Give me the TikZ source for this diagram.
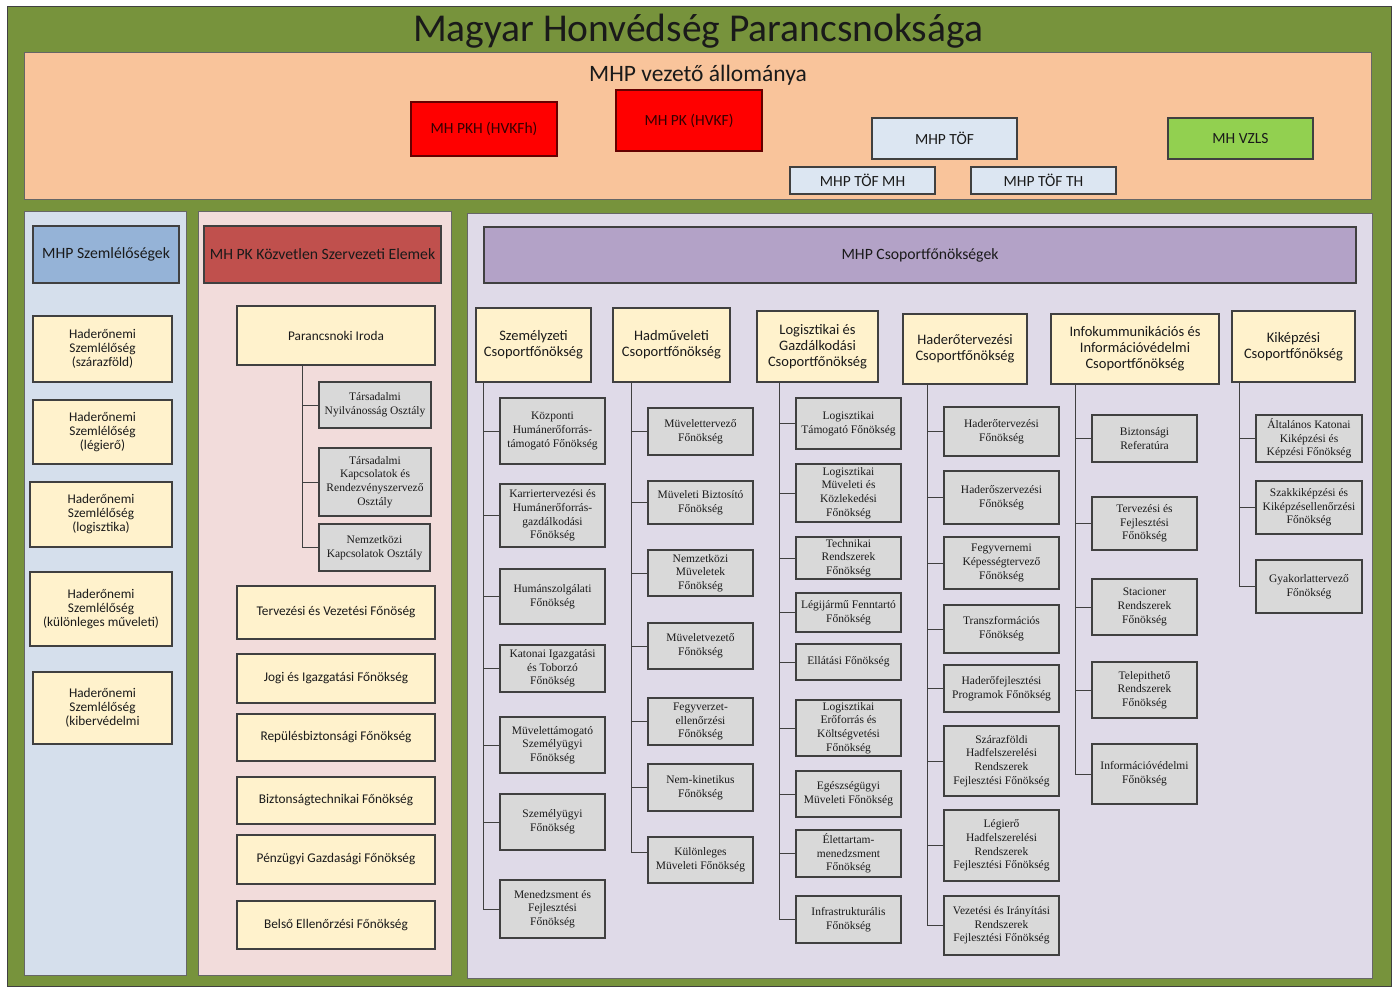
\documentclass[tikz,border=0pt]{standalone}
\usepackage{fontspec}
\setmainfont{Carlito}
\newfontfamily\serf{Liberation Serif}
\definecolor{greenbg}{HTML}{77933C}
\definecolor{peach}{HTML}{F9C49B}
\definecolor{bluepan}{HTML}{D5DFEC}
\definecolor{bluehdr}{HTML}{95B3D7}
\definecolor{pinkpan}{HTML}{F2DCDB}
\definecolor{redhdr}{HTML}{C0504D}
\definecolor{lavpan}{HTML}{DFDAE8}
\definecolor{purphdr}{HTML}{B3A2C7}
\definecolor{creamc}{HTML}{FFF2CC}
\definecolor{greyc}{HTML}{D9D9D9}
\definecolor{redbox}{HTML}{FF0000}
\definecolor{tofc}{HTML}{DCE6F2}
\definecolor{vzls}{HTML}{92D050}
\definecolor{linec}{HTML}{404040}
\definecolor{txt}{HTML}{1A1A1A}
\newcommand\bx[7]{\node[#1, minimum width={#5-#3}, minimum height={#6-#4}] (#2) at ({(#3+#5)/2},{-(#4+#6)/2}) {#7};}
\tikzset{
  box/.style={draw=linec, line width=1.1pt, inner sep=1pt, align=center, text=txt},
  panel/.style={draw=linec!80, line width=1pt},
  cream/.style={box, fill=creamc, font=\fontsize{13.3}{14}\selectfont},
  pinkitem/.style={box, fill=creamc, font=\fontsize{13.3}{14}\selectfont},
  grp/.style={box, fill=creamc, font=\fontsize{14.5}{16}\selectfont},
  grey/.style={box, fill=greyc, font=\serf\fontsize{11.5}{13.7}\selectfont},
  lead/.style={box, font=\fontsize{15.5}{17}\selectfont},
  hdr/.style={box, font=\fontsize{15.7}{18}\selectfont},
  link/.style={draw=linec, line width=1pt}
}
\begin{document}
\begin{tikzpicture}[x=1pt,y=1pt]
\useasboundingbox (0,0) rectangle (1394,-987);
\fill[white] (0,0) rectangle (1394,-987);
% outer
\bx{draw=linec, line width=1pt, fill=greenbg, inner sep=0pt}{outer}{7}{7}{1391}{986}{}
\node[font=\fontsize{39.5}{44}\selectfont, text=txt] (title) at (698,-31) {Magyar Honvédség Parancsnoksága};
% leadership
\bx{panel, fill=peach, inner sep=0pt}{lead}{24}{53}{1371}{200}{}
\node[font=\fontsize{23.5}{26}\selectfont, text=txt] (leadt) at (698,-75) {MHP vezető állománya};
\bx{lead, fill=redbox, draw=red!40!black, text=red!20!black}{pkh}{411}{102}{557}{156}{MH PKH (HVKFh)}
\bx{lead, fill=redbox, draw=red!40!black, text=red!20!black}{pk}{616}{90}{762}{151}{MH PK (HVKF)}
\bx{lead, fill=tofc}{tof}{872}{118}{1017}{159}{MHP TÖF}
\bx{lead, fill=vzls}{vz}{1168}{118}{1313}{159}{MH VZLS}
\bx{lead, fill=tofc}{tofmh}{790}{167}{935}{194}{MHP TÖF MH}
\bx{lead, fill=tofc}{tofth}{971}{167}{1116}{194}{MHP TÖF TH}
% left blue panel
\bx{panel, fill=bluepan, inner sep=0pt}{bp}{24}{211}{186}{975}{}
\bx{hdr, fill=bluehdr}{szh}{33}{226}{179}{283}{MHP Szemlélőségek}
\bx{cream}{s1}{33}{316}{172}{382}{Haderőnemi\\Szemlélőség\\(szárazföld)}
\bx{cream}{s2}{33}{400}{172}{464}{Haderőnemi\\Szemlélőség\\(légierő)}
\bx{cream}{s3}{30}{482}{172}{547}{Haderőnemi\\Szemlélőség\\(logisztika)}
\bx{cream}{s4}{30}{572}{172}{646}{Haderőnemi\\Szemlélőség\\(különleges műveleti)}
\bx{cream}{s5}{33}{672}{172}{744}{Haderőnemi\\Szemlélőség\\(kibervédelmi}
% pink panel
\bx{panel, fill=pinkpan, inner sep=0pt}{pp}{198}{211}{451}{975}{}
\bx{hdr, fill=redhdr}{pkh2}{204}{226}{441}{283}{MH PK Közvetlen Szervezeti Elemek}
\bx{pinkitem}{pi}{237}{306}{435}{365}{Parancsnoki Iroda}
\bx{grey}{pi1}{319}{382}{431}{428}{Társadalmi\\Nyilvánosság Osztály}
\bx{grey}{pi2}{319}{448}{431}{516}{Társadalmi\\Kapcsolatok és\\Rendezvényszervező\\Osztály}
\bx{grey}{pi3}{319}{524}{430}{571}{Nemzetközi\\Kapcsolatok Osztály}
\foreach \c in {pi1,pi2,pi3} \draw[link] ([xshift=66]pi.south west) |- (\c.west);
\bx{pinkitem}{p1}{237}{586}{435}{639}{Tervezési és Vezetési Főnöség}
\bx{pinkitem}{p2}{237}{654}{435}{703}{Jogi és Igazgatási Főnökség}
\bx{pinkitem}{p3}{237}{714}{435}{761}{Repülésbiztonsági Főnökség}
\bx{pinkitem}{p4}{237}{777}{435}{824}{Biztonságtechnikai Főnökség}
\bx{pinkitem}{p5}{237}{835}{435}{884}{Pénzügyi Gazdasági Főnökség}
\bx{pinkitem}{p6}{237}{901}{435}{949}{Belső Ellenőrzési Főnökség}
% lavender panel
\bx{panel, fill=lavpan, inner sep=0pt}{lp}{467}{213}{1372}{978}{}
\bx{hdr, fill=purphdr}{csh}{484}{227}{1356}{283}{MHP Csoportfőnökségek}
\bx{grp}{sz}{476}{308}{591}{382}{Személyzeti\\Csoportfőnökség}
\bx{grp}{hm}{613}{308}{730}{382}{Hadműveleti\\Csoportfőnökség}
\bx{grp}{lg}{757}{311}{878}{382}{Logisztikai és\\Gazdálkodási\\Csoportfőnökség}
\bx{grp}{ht}{903}{314}{1027}{384}{Haderőtervezési\\Csoportfőnökség}
\bx{grp}{ik}{1051}{314}{1219}{384}{Infokummunikációs és\\Információvédelmi\\Csoportfőnökség}
\bx{grp}{kk}{1232}{311}{1355}{382}{Kiképzési\\Csoportfőnökség}
% Szemelyzeti
\bx{grey}{sz1}{500}{398}{605}{464}{Központi\\Humánerőforrás-\\támogató Főnökség}
\bx{grey}{sz2}{500}{484}{605}{547}{Karriertervezési és\\Humánerőforrás-\\gazdálkodási\\Főnökség}
\bx{grey}{sz3}{500}{569}{605}{624}{Humánszolgálati\\Főnökség}
\bx{grey}{sz4}{500}{645}{605}{692}{Katonai Igazgatási\\és Toborzó\\Főnökség}
\bx{grey}{sz5}{500}{717}{605}{773}{Müvelettámogató\\Személyügyi\\Főnökség}
\bx{grey}{sz6}{500}{794}{605}{850}{Személyügyi\\Főnökség}
\bx{grey}{sz7}{500}{880}{605}{938}{Menedzsment és\\Fejlesztési\\Főnökség}
\foreach \c in {sz1,sz2,sz3,sz4,sz5,sz6,sz7} \draw[link] ([xshift=8]sz.south west) |- (\c.west);
% Hadmuveleti
\bx{grey}{hm1}{648}{408}{753}{455}{Müvelettervező\\Főnökség}
\bx{grey}{hm2}{648}{481}{753}{524}{Müveleti Biztosító\\Főnökség}
\bx{grey}{hm3}{648}{550}{753}{596}{Nemzetközi\\Müveletek\\Főnökség}
\bx{grey}{hm4}{648}{623}{753}{669}{Müveletvezető\\Főnökség}
\bx{grey}{hm5}{648}{698}{753}{745}{Fegyverzet-\\ellenőrzési\\Főnökség}
\bx{grey}{hm6}{648}{764}{753}{811}{Nem-kinetikus\\Főnökség}
\bx{grey}{hm7}{648}{837}{753}{883}{Különleges\\Müveleti Főnökség}
\foreach \c in {hm1,hm2,hm3,hm4,hm5,hm6} \draw[link] ([xshift=19]hm.south west) |- (\c.west);
\draw[link] ([xshift=19]hm.south west) |- ([yshift=8]hm7.west);
% Logisztikai
\bx{grey}{lg1}{796}{398}{901}{449}{Logisztikai\\Támogató Főnökség}
\bx{grey}{lg2}{796}{464}{901}{522}{Logisztikai\\Müveleti és\\Közlekedési\\Főnökség}
\bx{grey}{lg3}{796}{537}{901}{579}{Technikai\\Rendszerek\\Főnökség}
\bx{grey}{lg4}{796}{593}{901}{632}{Légijármű Fenntartó\\Főnökség}
\bx{grey}{lg5}{796}{644}{901}{680}{Ellátási Főnökség}
\bx{grey}{lg6}{796}{700}{901}{756}{Logisztikai\\Erőforrás és\\Költségvetési\\Főnökség}
\bx{grey}{lg7}{796}{771}{901}{817}{Egészségügyi\\Müveleti Főnökség}
\bx{grey}{lg8}{796}{830}{901}{877}{Élettartam-\\menedzsment\\Főnökség}
\bx{grey}{lg9}{796}{896}{901}{943}{Infrastrukturális\\Főnökség}
\foreach \c in {lg1,lg2,lg3,lg4,lg5,lg6,lg7,lg8,lg9} \draw[link] ([xshift=23]lg.south west) |- (\c.west);
% Haderotervezesi
\bx{grey}{ht1}{944}{407}{1059}{456}{Haderőtervezési\\Főnökség}
\bx{grey}{ht2}{944}{471}{1059}{524}{Haderőszervezési\\Főnökség}
\bx{grey}{ht3}{944}{537}{1059}{589}{Fegyvernemi\\Képességtervező\\Főnökség}
\bx{grey}{ht4}{944}{605}{1059}{653}{Transzformációs\\Főnökség}
\bx{grey}{ht5}{944}{665}{1059}{712}{Haderőfejlesztési\\Programok Főnökség}
\bx{grey}{ht6}{944}{726}{1059}{796}{Szárazföldi\\Hadfelszerelési\\Rendszerek\\Fejlesztési Főnökség}
\bx{grey}{ht7}{944}{810}{1059}{881}{Légierő\\Hadfelszerelési\\Rendszerek\\Fejlesztési Főnökség}
\bx{grey}{ht8}{944}{896}{1059}{955}{Vezetési és Irányítási\\Rendszerek\\Fejlesztési Főnökség}
\foreach \c in {ht1,ht2,ht3,ht4,ht5,ht6,ht7,ht8} \draw[link] ([xshift=25]ht.south west) |- (\c.west);
% Infokomm
\bx{grey}{ik1}{1092}{415}{1197}{462}{Biztonsági\\Referatúra}
\bx{grey}{ik2}{1092}{497}{1197}{550}{Tervezési és\\Fejlesztési\\Főnökség}
\bx{grey}{ik3}{1092}{579}{1197}{635}{Stacioner\\Rendszerek\\Főnökség}
\bx{grey}{ik4}{1092}{662}{1197}{718}{Telepithető\\Rendszerek\\Főnökség}
\bx{grey}{ik5}{1092}{744}{1197}{804}{Információvédelmi\\Főnökség}
\foreach \c in {ik1,ik2,ik3,ik4,ik5} \draw[link] ([xshift=25]ik.south west) |- (\c.west);
% Kikepzesi
\bx{grey}{kk1}{1256}{415}{1362}{462}{Általános Katonai\\Kiképzési és\\Képzési Főnökség}
\bx{grey}{kk2}{1256}{481}{1362}{534}{Szakkiképzési és\\Kiképzésellenőrzési\\Főnökség}
\bx{grey}{kk3}{1256}{560}{1362}{613}{Gyakorlattervező\\Főnökség}
\foreach \c in {kk1,kk2,kk3} \draw[link] ([xshift=8]kk.south west) |- (\c.west);
\end{tikzpicture}
\end{document}
